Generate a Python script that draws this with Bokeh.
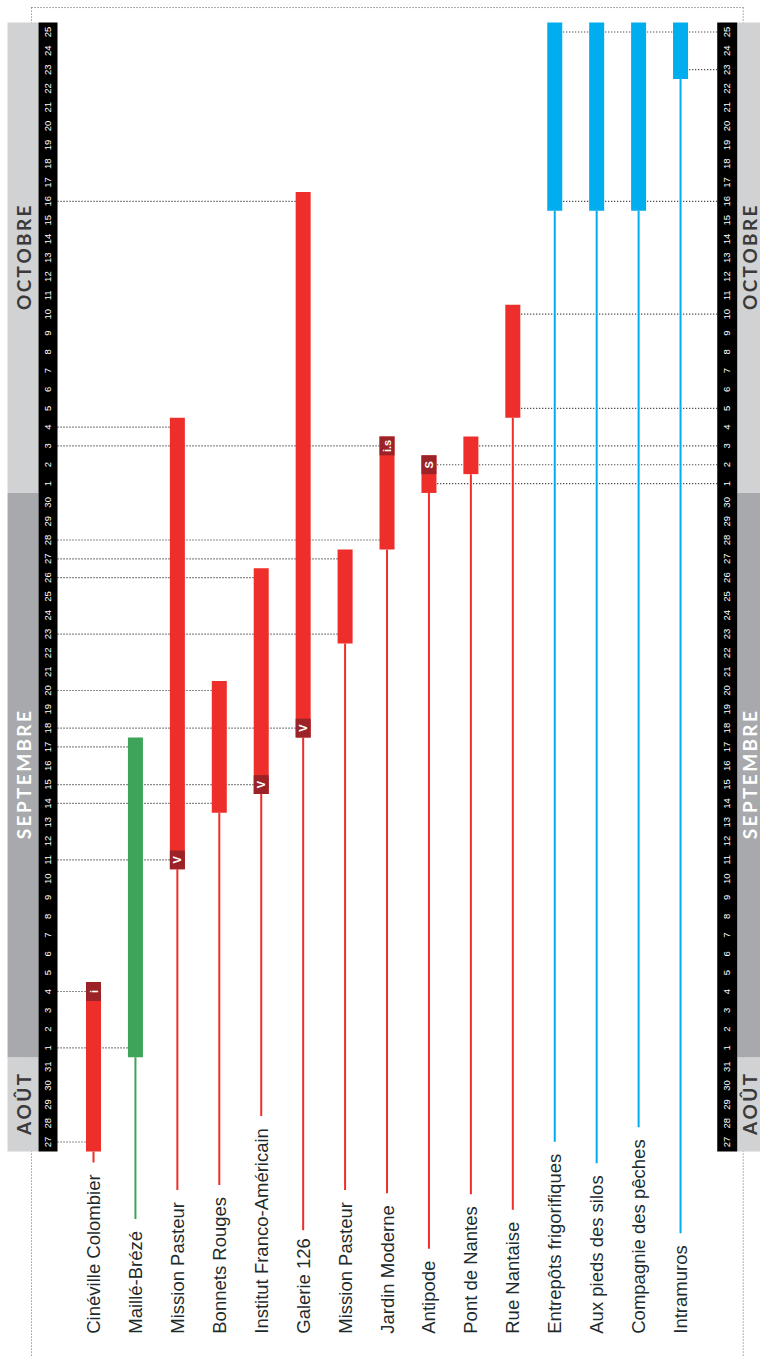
import math
import pandas as pd
from bokeh.plotting import figure
from bokeh.models import Range1d, ColumnDataSource
from bokeh.core.properties import value
from bokeh.embed import file_html
from bokeh.resources import INLINE

# ---------------- data ----------------
venues = ["Cinéville Colombier", "Maillé-Brézé", "Mission Pasteur", "Bonnets Rouges",
          "Institut Franco-Américain", "Galerie 126", "Mission Pasteur", "Jardin Moderne",
          "Antipode", "Pont de Nantes", "Rue Nantaise", "Entrepôts frigorifiques",
          "Aux pieds des silos", "Compagnie des pêches", "Intramuros"]
start_dates = ["2015-08-27", "2015-09-01", "2015-09-11", "2015-09-14", "2015-09-15",
               "2015-09-18", "2015-09-23", "2015-09-28", "2015-10-01", "2015-10-02",
               "2015-10-05", "2015-10-16", "2015-10-16", "2015-10-16", "2015-10-23"]
end_dates = ["2015-09-04", "2015-09-17", "2015-10-04", "2015-09-20", "2015-09-26",
             "2015-10-16", "2015-09-27", "2015-10-03", "2015-10-02", "2015-10-03",
             "2015-10-10", "2015-10-25", "2015-10-25", "2015-10-25", "2015-10-25"]
groups = ["red", "green", "red", "red", "red", "red", "red", "red",
          "red", "red", "red", "blue", "blue", "blue", "blue"]
tags = ["i", "", "V", "", "V", "V", "", "i.s", "S", "", "", "", "", "", ""]
tag_at = ["end", "", "start", "", "start", "start", "", "end", "end", "", "", "", "", "", ""]
first_day = "2015-08-27"
last_day = "2015-10-25"
month_names = {8: "AOÛT", 9: "SEPTEMBRE", 10: "OCTOBRE"}

# ---------------- styles ----------------
COL = {"red": "#ee2e2a", "green": "#3da45a", "blue": "#00adee"}
TAG_COLOR = "#9b2226"
MONTH_FILL = {8: "#d1d2d4", 9: "#a7a9ac", 10: "#d1d2d4"}
MONTH_TEXT = {8: "#3a3a3a", 9: "#ffffff", 10: "#3a3a3a"}
LABEL_COLOR = "#1d2b2c"
PX_PER_DAY = 18.81
HW = 0.179                     # half bar width (column units)
L_STRIP = (-1.311, -0.858)
R_STRIP = (14.875, 15.352)
L_BAND = (-2.05, -1.311)
R_BAND = (15.352, 15.95)
FRAME_X = (-1.478, 15.495)
FRAME_TOP = 60.3
LABEL_Y = -10.19
LABEL_SIZE = 18.5

base = pd.Timestamp(first_day)
days = pd.date_range(first_day, last_day)
day_idx = list(range(len(days)))
day_labels = [str(d.day) for d in days]

n = len(venues)
cols = list(range(n))
s_idx = [(pd.Timestamp(d) - base).days for d in start_dates]
e_idx = [(pd.Timestamp(d) - base).days for d in end_dates]

# Arial-like widths to size stems to the label lengths
W = {" ": 278, "-": 333, ".": 278, "A": 667, "B": 667, "C": 722, "E": 667, "F": 611,
     "I": 278, "J": 500, "M": 833, "N": 722, "P": 667, "R": 722, "a": 556, "b": 556,
     "c": 500, "d": 556, "e": 556, "é": 556, "ê": 556, "f": 278, "g": 556, "h": 556,
     "i": 222, "l": 222, "m": 833, "n": 556, "o": 556, "ô": 556, "p": 556, "q": 556,
     "r": 333, "s": 500, "t": 278, "u": 556, "v": 500, "x": 500, "z": 500}


def text_px(s):
    return sum(W.get(ch, 556) for ch in s) / 1000.0 * LABEL_SIZE


p = figure(width=760, height=1356, x_range=Range1d(-2.218, 15.907),
           y_range=Range1d(-11.4, 60.675), output_backend="svg",
           toolbar_location=None, min_border=0)
p.axis.visible = False
p.grid.visible = False
p.outline_line_color = None
p.background_fill_color = "white"
p.border_fill_color = "white"

# dotted frame
p.segment(x0=[FRAME_X[0]], y0=[FRAME_TOP], x1=[FRAME_X[1]], y1=[FRAME_TOP],
          line_color="#555555", line_width=1, line_dash="1 2")
p.segment(x0=list(FRAME_X), y0=[FRAME_TOP] * 2, x1=list(FRAME_X), y1=[-12, -12],
          line_color="#666666", line_width=1, line_dash="1 2")

# date guide lines (one per date and side, drawn from the strip to the farthest bar)
left_lines, right_lines = {}, {}
for c in cols:
    for d in (s_idx[c], e_idx[c]):
        if c < 8:
            left_lines[d] = max(left_lines.get(d, -99), c - HW)
        else:
            right_lines[d] = min(right_lines.get(d, 99), c + HW)
gx0 = [L_STRIP[1]] * len(left_lines) + [R_STRIP[0]] * len(right_lines)
gx1 = list(left_lines.values()) + list(right_lines.values())
gy = list(left_lines.keys()) + list(right_lines.keys())
p.segment(x0=gx0, y0=gy, x1=gx1, y1=gy, line_color="#1a1a1a", line_width=1.2,
          line_dash="1 2")

# stems
stem_end = [LABEL_Y + (text_px(v) + 12) / PX_PER_DAY for v in venues]
p.segment(x0=cols, y0=[s - 0.5 for s in s_idx], x1=cols, y1=stem_end,
          line_color=[COL[g] for g in groups], line_width=2)

# bars
bars = ColumnDataSource(dict(
    left=[c - HW for c in cols], right=[c + HW for c in cols],
    bottom=[s - 0.5 for s in s_idx], top=[e + 0.5 for e in e_idx],
    color=[COL[g] for g in groups]))
p.quad(left="left", right="right", bottom="bottom", top="top", fill_color="color",
       line_color=None, source=bars)

# tags
tx, ty, tt = [], [], []
for c in cols:
    if tags[c]:
        tx.append(c)
        ty.append(e_idx[c] if tag_at[c] == "end" else s_idx[c])
        tt.append(tags[c])
p.quad(left=[x - HW for x in tx], right=[x + HW for x in tx],
       bottom=[y - 0.5 for y in ty], top=[y + 0.5 for y in ty],
       fill_color=TAG_COLOR, line_color=None)
p.text(x=tx, y=ty, text=tt, angle=math.pi / 2, text_align="center",
       text_baseline="middle", text_color="white", text_font=value("Liberation Sans"),
       text_font_style="bold", text_font_size="11px")

# month bands, day strips
months = sorted(set(d.month for d in days))
for m in months:
    idx = [i for i, d in enumerate(days) if d.month == m]
    lo, hi = idx[0] - 0.5, idx[-1] + 0.5
    for band in (L_BAND, R_BAND):
        p.quad(left=[band[0]], right=[band[1]], bottom=[lo], top=[hi],
               fill_color=MONTH_FILL[m], line_color=None)
        name = "\u2009".join(month_names[m])
        p.text(x=[(band[0] + band[1]) / 2], y=[(lo + hi) / 2], text=[name],
               angle=math.pi / 2, text_align="center", text_baseline="middle",
               text_color=MONTH_TEXT[m], text_font=value("Lato"),
               text_font_style="bold", text_font_size="19px")

for strip in (L_STRIP, R_STRIP):
    p.quad(left=[strip[0]], right=[strip[1]], bottom=[-0.5], top=[len(days) - 0.5],
           fill_color="black", line_color=None)
    p.text(x=[(strip[0] + strip[1]) / 2] * len(days), y=day_idx, text=day_labels,
           angle=math.pi / 2, text_align="center", text_baseline="middle",
           text_color="white", text_font=value("Liberation Sans"),
           text_font_size="9.5px")

# venue labels
p.text(x=cols, y=[LABEL_Y] * n, text=venues, angle=math.pi / 2, text_align="left",
       text_baseline="middle", text_color=LABEL_COLOR,
       text_font=value("Liberation Sans"), text_font_size=f"{LABEL_SIZE}px")

with open("out.html", "w", encoding="utf-8") as f:
    f.write(file_html(p, INLINE))
